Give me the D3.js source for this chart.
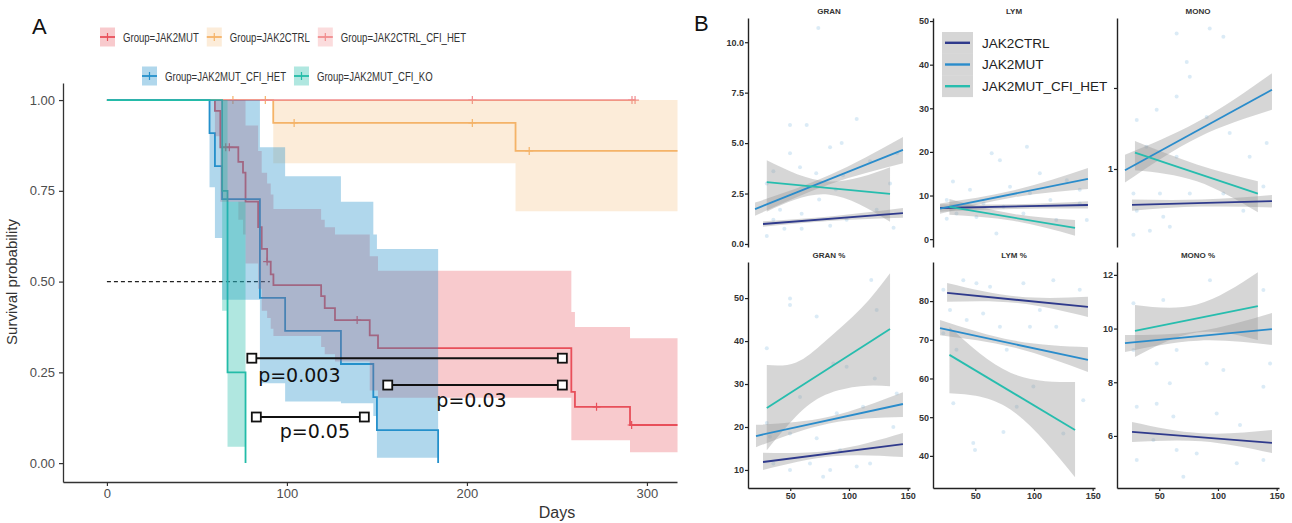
<!DOCTYPE html>
<html>
<head>
<meta charset="utf-8">
<script src="https://cdn.jsdelivr.net/npm/d3@7"></script>
<style>
body { margin: 0; background: #fff; }
svg { display: block; }
</style>
</head>
<body>
<svg id="fig" width="1292" height="523"></svg>
<script>
// ---------- panel A: Kaplan-Meier data ----------
var kmGroups = ["JAK2MUT", "JAK2CTRL", "JAK2CTRL_CFI_HET", "JAK2MUT_CFI_HET", "JAK2MUT_CFI_KO"];

var mutTime   = [0, 60, 63, 73, 75.6, 77, 84, 86, 89, 91, 92.5, 119, 121, 126.7, 146, 150.6, 258, 260, 290.6];
var mutSurv   = [1, 0.97, 0.87, 0.83, 0.80, 0.72, 0.65, 0.59, 0.555, 0.52, 0.49, 0.46, 0.427, 0.394, 0.352, 0.317, 0.196, 0.155, 0.105];
var mutUpper  = [1, 1, 1, 1, 1, 0.93, 0.86, 0.80, 0.77, 0.74, 0.70, 0.67, 0.65, 0.63, 0.57, 0.53, 0.416, 0.375, 0.344];
var mutLower  = [1, 0.90, 0.72, 0.67, 0.63, 0.55, 0.48, 0.42, 0.40, 0.37, 0.35, 0.32, 0.30, 0.28, 0.20, 0.18, 0.063, 0.063, 0.03];
var mutCensor = [[66, 0.87], [68, 0.87], [89, 0.555], [139, 0.394], [272, 0.155], [291.5, 0.105]];

var ctrlTime   = [0, 92.4, 227];
var ctrlSurv   = [1, 0.937, 0.86];
var ctrlUpper  = [1, 1, 1];
var ctrlLower  = [1, 0.826, 0.694];
var ctrlCensor = [[70, 1], [88, 1], [104, 0.937], [203, 0.937], [234.6, 0.86]];

var ctrlHetTime   = [0];
var ctrlHetSurv   = [1];
var ctrlHetUpper  = [1];
var ctrlHetLower  = [1];
var ctrlHetCensor = [[203, 1], [291.7, 1], [293.4, 1]];

var mutHetTime  = [0, 57, 60, 64, 85, 99, 130, 148, 150, 184];
var mutHetSurv  = [1, 0.909, 0.818, 0.727, 0.455, 0.364, 0.273, 0.182, 0.091, 0];
var mutHetUpper = [1, 1, 1, 1, 0.87, 0.79, 0.72, 0.63, 0.59, null];
var mutHetLower = [1, 0.76, 0.62, 0.45, 0.22, 0.17, 0.165, 0.13, 0.015, null];

var koTime  = [0, 64, 67, 77];
var koSurv  = [1, 0.75, 0.25, 0];
var koUpper = [1, 1, 0.72, null];
var koLower = [1, 0.42, 0.045, null];

var kmEnd = [317, 317, 293.4, 184, 77];
var xTicksA = [0, 100, 200, 300];
var yTicksA = [0, 0.25, 0.5, 0.75, 1];

// log-rank comparisons: from, to, level, label, label position
var pBrackets = [
    {x1: 80.5, x2: 253, y: 0.289, label: "p=0.003", lx: 84, ly: 0.242},
    {x1: 156, x2: 253, y: 0.215, label: "p=0.03", lx: 183, ly: 0.174},
    {x1: 83, x2: 143, y: 0.127, label: "p=0.05", lx: 96, ly: 0.088}
];

// ---------- panel B: blood counts vs age ----------
var cbcGroups = ["JAK2CTRL", "JAK2MUT", "JAK2MUT_CFI_HET"];
var cbcPanels = ["GRAN", "LYM", "MONO", "GRAN %", "LYM %", "MONO %"];
var xTicksB = [50, 100, 150];

// fitted lines per group: [x0, y0, x1, y1]
var granFit    = [[26.8, 0.99, 146, 1.53], [20, 1.73, 146, 4.66], [30, 3.07, 135, 2.48]];
var lymFit     = [[20, 7.14, 146, 7.83], [20, 7.0, 146, 13.8], [28, 7.4, 135, 2.56]];
var monoFit    = [[26.8, 0.735, 146, 0.76], [20.8, 0.99, 146, 1.97], [29.3, 1.15, 134, 0.81]];
var granPctFit = [[26.8, 11.85, 146, 16.0], [20.8, 17.9, 146, 25.35], [30, 24.4, 135, 42.8]];
var lymPctFit  = [[26, 82.1, 146, 78.5], [20, 73.0, 146, 64.8], [28, 66.1, 135, 46.7]];
var monoPctFit = [[26.8, 6.15, 146, 5.74], [20.8, 9.46, 146, 9.98], [29.3, 9.91, 134, 10.84]];

// confidence bands per group: [x, lower, upper]
var granBand = [
    [[26.8, 0.85, 1.13], [86, 1.15, 1.38], [146, 1.30, 1.78]],
    [[20, 1.4, 2.05], [83, 2.95, 3.4], [146, 4.0, 5.3]],
    [[30, 1.6, 4.15], [82, 2.45, 3.1], [135, 1.1, 3.8]]
];
var lymBand = [
    [[20, 6.3, 8.0], [83, 6.9, 8.0], [146, 7.0, 8.7]],
    [[20, 5.8, 8.2], [83, 9.6, 11.2], [146, 11.5, 16.3]],
    [[28, 5.6, 9.2], [82, 4.2, 5.8], [135, 0.8, 4.4]]
];
var monoBand = [
    [[26.8, 0.70, 0.77], [86, 0.725, 0.77], [146, 0.72, 0.80]],
    [[20.8, 0.89, 1.13], [83, 1.31, 1.50], [146, 1.66, 2.27]],
    [[29.3, 0.99, 1.27], [82, 0.90, 1.04], [134, 0.69, 0.90]]
];
var granPctBand = [
    [[26.8, 10, 14], [86, 13.2, 14.6], [146, 13, 18.6]],
    [[20.8, 15.3, 20.5], [83, 20.8, 22.4], [146, 22.3, 28.1]],
    [[30, 14.6, 34.4], [55, 22.5, 35], [80, 27.5, 40], [110, 29.5, 47.5], [135, 29.5, 55.8]]
];
var lymPctBand = [
    [[26, 79.8, 84.7], [86, 79.5, 81.2], [146, 75.9, 81.1]],
    [[20, 71.2, 75.1], [83, 68.0, 69.8], [146, 61.7, 68.1]],
    [[28, 56.2, 73.3], [80, 52, 61.5], [135, 34.5, 59.1]]
];
var monoPctBand = [
    [[26.8, 5.77, 6.52], [86, 5.8, 6.1], [146, 5.36, 6.22]],
    [[20.8, 9.13, 9.76], [83, 9.55, 9.9], [146, 9.39, 10.58]],
    [[29.3, 8.94, 10.88], [82, 9.85, 10.9], [134, 9.57, 12.1]]
];

// raw observations [age, value]
var granDots = [[73.9, 10.7], [49.8, 5.9], [64, 5.9], [106.6, 6.2], [83.9, 4.8], [93.8, 5.0], [49.8, 4.5], [58.3, 3.8], [72.1, 3.5], [95, 3.4], [118, 4.1], [41.3, 1.7], [59.7, 1.5], [35.6, 1.2], [45, 0.75], [59.7, 0.75], [84, 0.9], [98, 1.2], [123.6, 1.7], [138, 0.8], [30, 0.4], [74.6, 2.2], [88.8, 2.7], [135, 3.0], [141, 4.5], [30, 3.0], [35.6, 3.6]];
var lymDots = [[64, 19.7], [31, 13.2], [45.5, 11.3], [25.7, 9], [34, 5.9], [51, 5.1], [25.7, 4.7], [57, 8.2], [71, 18.1], [94, 21.2], [79.6, 12], [105, 15.1], [128, 13.5], [139, 11.3], [74, 7.4], [91, 5.9], [114, 9], [139, 8.2], [119, 4.4], [96.6, 10.5], [145, 4.4], [68, 1.3]];
var monoDots = [[64.8, 3.19], [93, 3.33], [73.4, 2.5], [76, 2.2], [64.8, 1.86], [47.8, 1.66], [30.8, 1.52], [90.4, 1.56], [110, 1.36], [141.5, 1.25], [39, 1.21], [64.8, 1.11], [28, 0.81], [50.6, 0.81], [76, 0.81], [104.6, 0.81], [30.8, 0.70], [53.4, 0.665], [42, 0.59], [59, 0.61], [28, 0.57], [121.6, 0.70], [138.7, 0.86], [127, 1.11], [104.6, 3.1]];
var granPctDots = [[30, 38.3], [49.8, 49.9], [49.8, 48.4], [72.5, 45.7], [98, 34], [119, 54.2], [123.6, 47.2], [122, 31.3], [30, 20.9], [32.7, 17.7], [49.8, 18.5], [72.5, 17.4], [89.6, 23.2], [112, 24.7], [137.8, 20], [140.7, 27.8], [35.6, 11.5], [49.8, 10], [66.8, 11.5], [84, 10], [106.6, 10.8], [118, 11.5], [78, 8.4], [58.3, 27], [86.7, 34.8], [92.4, 14.6]];
var lymPctDots = [[22.8, 82.9], [39.8, 85.4], [51, 84.6], [62.6, 83.7], [28.5, 77.7], [42.7, 75.1], [56.7, 76.8], [22.8, 71.7], [34, 67.4], [31.3, 53.6], [48.3, 43.3], [49.8, 41.5], [91, 84.6], [116.5, 85.4], [139, 82.9], [71, 73.4], [96.6, 73.4], [119, 73.4], [76.8, 67.4], [99.5, 57.9], [74, 46.2], [85.3, 52.7], [125, 45.8], [142, 54.4], [105, 77.7]];
var monoPctDots = [[28, 10.94], [53.4, 11.06], [93.2, 11.8], [138.7, 11.44], [28, 9.2], [47.8, 8.7], [64.8, 9.2], [90.4, 8.7], [104.6, 8.46], [144.4, 8.7], [59, 7.96], [138.7, 7.83], [30.8, 7.09], [47.8, 7.2], [62, 6.72], [98.9, 6.84], [118.8, 6.41], [30.8, 5.1], [64.8, 5.48], [81.9, 5.35], [70.5, 4.48], [116, 4.98], [138.7, 5.1], [45, 5.85]];

var svg = d3.select("#fig");
var sans = "'Liberation Sans', Arial, sans-serif";

// ================= panel A =================
var xA = d3.scaleLinear().domain([-24.4, 316.7]).range([63, 677]);
var yA = d3.scaleLinear().domain([-0.052, 1.047]).range([482, 83]);

var km = [
    {time: mutTime, surv: mutSurv, up: mutUpper, lo: mutLower, censor: mutCensor, color: "#E8505B", alpha: 0.3},
    {time: ctrlTime, surv: ctrlSurv, up: ctrlUpper, lo: ctrlLower, censor: ctrlCensor, color: "#F5B368", alpha: 0.25},
    {time: ctrlHetTime, surv: ctrlHetSurv, up: ctrlHetUpper, lo: ctrlHetLower, censor: ctrlHetCensor, color: "#F18C8E", alpha: 0.3},
    {time: mutHetTime, surv: mutHetSurv, up: mutHetUpper, lo: mutHetLower, censor: [], color: "#2490CB", alpha: 0.36},
    {time: koTime, surv: koSurv, up: koUpper, lo: koLower, censor: [], color: "#23BCA8", alpha: 0.36}
];
km.forEach(function(g, i) { g.name = kmGroups[i]; g.end = kmEnd[i]; });

var stepLine = d3.line().curve(d3.curveStepAfter)
    .x(function(d) { return xA(d[0]); })
    .y(function(d) { return yA(d[1]); });
var stepArea = d3.area().curve(d3.curveStepAfter)
    .x(function(d) { return xA(d[0]); })
    .y0(function(d) { return yA(d[1]); })
    .y1(function(d) { return yA(d[2]); });

var gA = svg.append("g");

// median line
gA.append("line")
    .attr("x1", xA(0)).attr("x2", xA(90.5))
    .attr("y1", yA(0.5)).attr("y2", yA(0.5))
    .attr("stroke", "#222").attr("stroke-width", 1.1)
    .attr("stroke-dasharray", "4,3");

// survival curves + censor marks
km.forEach(function(g) {
    var pts = g.time.map(function(t, i) { return [t, g.surv[i]]; });
    pts.push([g.end, g.surv[g.surv.length - 1]]);
    gA.append("path")
        .attr("d", stepLine(pts))
        .attr("fill", "none")
        .attr("stroke", g.color)
        .attr("stroke-width", 1.8);
    gA.selectAll(null)
        .data(g.censor)
        .enter()
        .append("path")
        .attr("d", function(d) {
            var x = xA(d[0]), y = yA(d[1]);
            return "M" + x + "," + (y - 4) + "V" + (y + 4) + "M" + (x - 4) + "," + y + "H" + (x + 4);
        })
        .attr("stroke", g.color)
        .attr("stroke-width", 1.2);
});

// confidence ribbons (drawn over the curves, as in the original)
km.forEach(function(g) {
    var pts = [];
    g.time.forEach(function(t, i) {
        if (g.up[i] != null) pts.push([t, g.lo[i], g.up[i]]);
    });
    var last = pts[pts.length - 1];
    pts.push([g.end, last[1], last[2]]);
    gA.append("path")
        .attr("d", stepArea(pts))
        .attr("fill", g.color)
        .attr("fill-opacity", g.alpha);
});

// p-value brackets
pBrackets.forEach(function(b) {
    gA.append("line")
        .attr("x1", xA(b.x1)).attr("x2", xA(b.x2))
        .attr("y1", yA(b.y)).attr("y2", yA(b.y))
        .attr("stroke", "#111").attr("stroke-width", 2);
    [b.x1, b.x2].forEach(function(x) {
        gA.append("rect")
            .attr("x", xA(x) - 4.5).attr("y", yA(b.y) - 4.5)
            .attr("width", 9).attr("height", 9)
            .attr("fill", "#fff").attr("stroke", "#111").attr("stroke-width", 1.8);
    });
    gA.append("text")
        .attr("x", xA(b.lx)).attr("y", yA(b.ly))
        .attr("dy", "0.35em")
        .attr("font-family", "'DejaVu Sans', sans-serif")
        .attr("font-size", 19)
        .attr("fill", "#111")
        .text(b.label);
});

// axes
var axA = gA.append("g").attr("transform", "translate(0,482)")
    .call(d3.axisBottom(xA).tickValues(xTicksA).tickSize(4).tickSizeOuter(0).tickPadding(3));
var ayA = gA.append("g").attr("transform", "translate(63,0)")
    .call(d3.axisLeft(yA).tickValues(yTicksA).tickFormat(d3.format(".2f")).tickSize(4).tickSizeOuter(0).tickPadding(4));
[axA, ayA].forEach(function(a) {
    a.select(".domain").attr("stroke", "#333").attr("stroke-width", 1.3);
    a.selectAll(".tick line").attr("stroke", "#333").attr("stroke-width", 1.2);
    a.selectAll("text").attr("font-family", sans).attr("font-size", 13).attr("fill", "#4d4d4d");
});

gA.append("text")
    .attr("transform", "translate(17,282) rotate(-90)")
    .attr("text-anchor", "middle")
    .attr("font-family", sans).attr("font-size", 15).attr("fill", "#333")
    .text("Survival probability");
gA.append("text")
    .attr("x", 557).attr("y", 518)
    .attr("text-anchor", "middle")
    .attr("font-family", sans).attr("font-size", 16).attr("fill", "#333")
    .text("Days");

// legend: two rows, items chained; the original text is horizontally condensed
var legRows = [{start: 100, y: 37, items: [0, 1, 2]}, {start: 142, y: 76, items: [3, 4]}];
var squeeze = 0.71;
legRows.forEach(function(r) {
    var lx = r.start, ly = r.y;
    r.items.forEach(function(i) {
        var g = km[i];
        var k = gA.append("g");
        k.append("rect")
            .attr("x", lx).attr("y", ly - 9.5).attr("width", 15).attr("height", 19)
            .attr("fill", g.color).attr("fill-opacity", g.alpha);
        k.append("line")
            .attr("x1", lx).attr("x2", lx + 15).attr("y1", ly).attr("y2", ly)
            .attr("stroke", g.color).attr("stroke-width", 1.8);
        k.append("line")
            .attr("x1", lx + 7.5).attr("x2", lx + 7.5).attr("y1", ly - 4).attr("y2", ly + 4)
            .attr("stroke", g.color).attr("stroke-width", 1.2);
        var t = k.append("text")
            .attr("transform", "translate(" + (lx + 23) + "," + ly + ") scale(" + squeeze + ",1)")
            .attr("dy", "0.35em")
            .attr("font-family", sans)
            .attr("font-size", 13.5).attr("fill", "#333")
            .text("Group=" + g.name);
        lx += 23 + t.node().getComputedTextLength() * squeeze + 8;
    });
});

svg.append("text").attr("x", 32).attr("y", 34)
    .attr("font-family", sans).attr("font-size", 22).attr("fill", "#111").text("A");

// ================= panel B =================
var colX = [748, 933, 1117];
var rowY = [[247, 18], [488, 262]];
var groupColors = ["#2F3A8C", "#2A8CCB", "#27BDAE"];

var facets = [
    {fit: granFit, band: granBand, dots: granDots, dom: [-0.15, 11.2], ticks: [0, 2.5, 5, 7.5, 10], fmt: d3.format(".1f")},
    {fit: lymFit, band: lymBand, dots: lymDots, dom: [-1.8, 50.7], ticks: [0, 10, 20, 30, 40, 50], fmt: d3.format("d")},
    {fit: monoFit, band: monoBand, dots: monoDots, dom: [0.513, 3.64], ticks: [1, 2], fmt: d3.format("d"), log: true},
    {fit: granPctFit, band: granPctBand, dots: granPctDots, dom: [5.8, 58.4], ticks: [10, 20, 30, 40, 50], fmt: d3.format("d")},
    {fit: lymPctFit, band: lymPctBand, dots: lymPctDots, dom: [31.7, 90.1], ticks: [40, 50, 60, 70, 80], fmt: d3.format("d")},
    {fit: monoPctFit, band: monoPctBand, dots: monoPctDots, dom: [4.06, 12.48], ticks: [6, 8, 10, 12], fmt: d3.format("d")}
];

var gB = svg.append("g");

facets.forEach(function(f, i) {
    var row = Math.floor(i / 3), col = i % 3;
    var x = d3.scaleLinear().domain([14, 152]).range([colX[col], colX[col] + 162]);
    var y = (f.log ? d3.scaleLog().base(2) : d3.scaleLinear()).domain(f.dom).range(rowY[row]);
    var g = gB.append("g");

    g.selectAll("circle")
        .data(f.dots)
        .enter()
        .append("circle")
        .attr("cx", function(d) { return x(d[0]); })
        .attr("cy", function(d) { return y(d[1]); })
        .attr("r", 2)
        .attr("fill", "#a6cde8")
        .attr("fill-opacity", 0.4);

    var band = d3.area().curve(d3.curveNatural)
        .x(function(d) { return x(d[0]); })
        .y0(function(d) { return y(d[1]); })
        .y1(function(d) { return y(d[2]); });
    f.band.forEach(function(b) {
        g.append("path").attr("d", band(b))
            .attr("fill", "#999").attr("fill-opacity", 0.4);
    });
    f.fit.forEach(function(l, j) {
        g.append("line")
            .attr("x1", x(l[0])).attr("y1", y(l[1]))
            .attr("x2", x(l[2])).attr("y2", y(l[3]))
            .attr("stroke", groupColors[j]).attr("stroke-width", 1.8);
    });

    var ay = g.append("g").attr("transform", "translate(" + colX[col] + ",0)")
        .call(d3.axisLeft(y).tickValues(f.ticks).tickFormat(f.fmt).tickSize(3).tickSizeOuter(0).tickPadding(1));
    var axes = [ay];
    if (row === 1) {
        var ax = g.append("g").attr("transform", "translate(0," + rowY[1][0] + ")")
            .call(d3.axisBottom(x).tickValues(xTicksB).tickSize(3).tickSizeOuter(0).tickPadding(2));
        axes.push(ax);
    }
    axes.forEach(function(a) {
        a.select(".domain").attr("stroke", "#222").attr("stroke-width", 1.4);
        a.selectAll(".tick line").attr("stroke", "#222").attr("stroke-width", 1.2);
        a.selectAll("text").attr("font-family", sans).attr("font-weight", "bold")
            .attr("font-size", 9).attr("fill", "#333");
    });

    g.append("text")
        .attr("x", colX[col] + 81).attr("y", rowY[row][1] - 4)
        .attr("text-anchor", "middle")
        .attr("font-family", sans).attr("font-weight", "bold")
        .attr("font-size", 8).attr("fill", "#333")
        .text(cbcPanels[i]);
});

// legend (inside LYM panel)
var legB = gB.append("g");
legB.append("rect").attr("x", 937).attr("y", 27).attr("width", 176).attr("height", 76).attr("fill", "#fff");
cbcGroups.forEach(function(name, j) {
    var ky = 32 + j * 21.7;
    legB.append("rect").attr("x", 942).attr("y", ky).attr("width", 31).attr("height", 21.7)
        .attr("fill", "#999").attr("fill-opacity", 0.4);
    legB.append("line").attr("x1", 945).attr("x2", 970)
        .attr("y1", ky + 10.8).attr("y2", ky + 10.8)
        .attr("stroke", groupColors[j]).attr("stroke-width", 2.4);
    legB.append("text").attr("x", 982).attr("y", ky + 10.8).attr("dy", "0.35em")
        .attr("font-family", sans).attr("font-size", 13.5).attr("fill", "#222")
        .text(name);
});

svg.append("text").attr("x", 694).attr("y", 31)
    .attr("font-family", sans).attr("font-size", 22).attr("fill", "#111").text("B");
</script>
</body>
</html>
